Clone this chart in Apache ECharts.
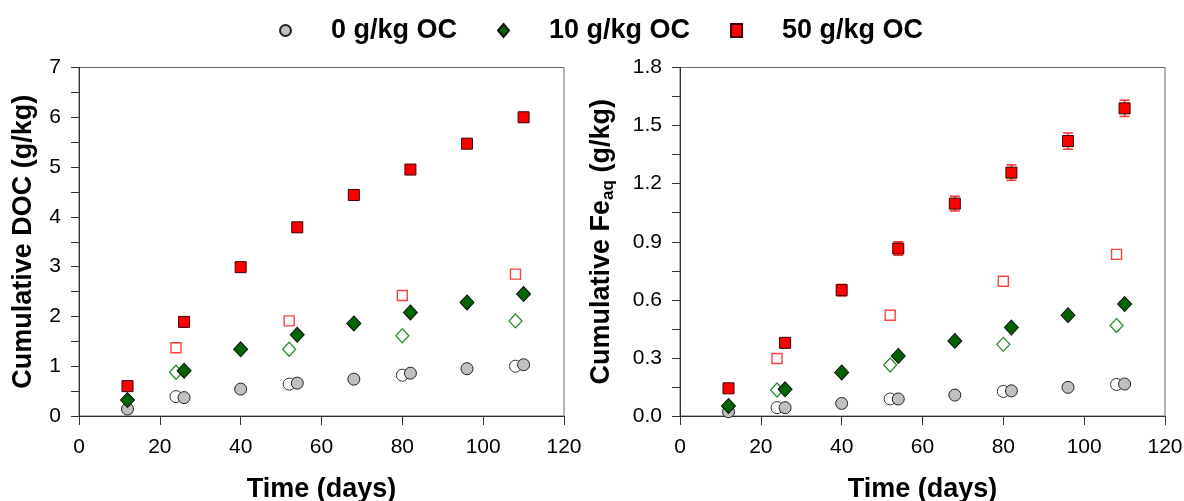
<!DOCTYPE html>
<html>
<head>
<meta charset="utf-8">
<script src="https://cdn.jsdelivr.net/npm/echarts@6/dist/echarts.min.js"></script>
<style>
  html, body { margin: 0; padding: 0; background: #fff; }
  #chart { width: 1184px; height: 501px; }
</style>
</head>
<body>
<div id="chart"></div>
<script>
// Sampling days: filled markers and the offset open markers
const timeFilled = [12, 26, 40, 54, 68, 82, 96, 110];
const timeOpen = [24, 52, 80, 108];

// Cumulative DOC (g/kg)
const doc0 = [0.14, 0.37, 0.54, 0.66, 0.74, 0.86, 0.95, 1.03];
const doc0Open = [0.39, 0.64, 0.82, 1.00];
const doc10 = [0.32, 0.91, 1.34, 1.63, 1.86, 2.08, 2.28, 2.45];
const doc10Open = [0.88, 1.34, 1.61, 1.91];
const doc50 = [0.60, 1.89, 2.99, 3.79, 4.44, 4.95, 5.47, 6.00];
const doc50Open = [1.37, 1.91, 2.42, 2.85];

// Cumulative aqueous Fe (g/kg)
const fe0 = [0.022, 0.043, 0.065, 0.088, 0.108, 0.130, 0.148, 0.165];
const fe0Open = [0.043, 0.088, 0.127, 0.163];
const fe10 = [0.052, 0.138, 0.225, 0.310, 0.388, 0.457, 0.521, 0.578];
const fe10Open = [0.134, 0.263, 0.370, 0.467];
const fe50 = [0.143, 0.378, 0.650, 0.865, 1.097, 1.257, 1.420, 1.589];
const fe50Err = [0.005, 0.008, 0.030, 0.035, 0.038, 0.040, 0.042, 0.042];
const fe50Open = [0.297, 0.520, 0.696, 0.835];

const names = ['0 g/kg OC', '10 g/kg OC', '50 g/kg OC'];

const FONT = '"Liberation Sans", Arial, Helvetica, sans-serif';

const pair = (xs, ys) => xs.map((x, i) => [x, ys[i]]);

const styles = {
  filled: [
    { symbol: 'circle', symbolSize: 12, itemStyle: { color: '#c0c0c0', borderColor: '#222', borderWidth: 1, opacity: 1 } },
    { symbol: 'diamond', symbolSize: [14, 15], itemStyle: { color: '#006400', borderColor: '#111', borderWidth: 1, opacity: 1 } },
    { symbol: 'rect', symbolSize: 11, itemStyle: { color: '#ff0000', borderColor: '#3a0000', borderWidth: 1, opacity: 1 } }
  ],
  open: [
    { symbol: 'circle', symbolSize: 12, itemStyle: { color: '#fff', borderColor: '#333', borderWidth: 1, opacity: 1 } },
    { symbol: 'diamond', symbolSize: [13, 14], itemStyle: { color: '#fff', borderColor: '#2e8b2e', borderWidth: 1.3, opacity: 1 } },
    { symbol: 'rect', symbolSize: 10, itemStyle: { color: '#fff', borderColor: '#ff4040', borderWidth: 1.4, opacity: 1 } }
  ]
};

function scatterSet(axis, filledSets, openSets) {
  const out = [];
  filledSets.forEach((ys, k) => {
    out.push(Object.assign({
      type: 'scatter', name: names[k], xAxisIndex: axis, yAxisIndex: axis,
      data: pair(timeFilled, ys), z: 4, silent: true
    }, styles.filled[k]));
  });
  openSets.forEach((ys, k) => {
    out.push(Object.assign({
      type: 'scatter', name: names[k], xAxisIndex: axis, yAxisIndex: axis,
      data: pair(timeOpen, ys), z: 3, silent: true
    }, styles.open[k]));
  });
  return out;
}

const axisLine = { show: true, lineStyle: { color: '#333', width: 1 } };
const tickStyle = { show: true, inside: false, length: 8, lineStyle: { color: '#333', width: 1 } };
const labelStyle = { color: '#000', fontSize: 21, fontFamily: FONT };

function xAxis(idx) {
  return {
    type: 'value', gridIndex: idx, min: 0, max: 120, interval: 20,
    axisLine: axisLine,
    axisTick: Object.assign({}, tickStyle, { length: 9 }),
    axisLabel: Object.assign({ margin: 21 }, labelStyle),
    splitLine: { show: false },
    name: 'Time (days)', nameLocation: 'middle', nameGap: 60,
    nameTextStyle: { color: '#000', fontSize: 27, fontWeight: 'bold', fontFamily: FONT }
  };
}

const chart = echarts.init(document.getElementById('chart'), null, { renderer: 'canvas' });

const gridBase = {
  top: 67.5, width: 485, height: 348.5, show: true,
  borderColor: '#666', borderWidth: 1, backgroundColor: 'transparent',
  containLabel: false, outerBoundsMode: 'none'
};

chart.setOption({
  animation: false,
  backgroundColor: '#fff',
  legend: {
    data: names,
    top: 12, left: 274,
    itemWidth: 11, itemHeight: 13, itemGap: 40,
    selectedMode: false,
    textStyle: { color: '#000', fontSize: 27, fontWeight: 'bold', fontFamily: FONT, padding: [0, 0, 0, 35] }
  },
  grid: [
    Object.assign({ left: 79 }, gridBase),
    Object.assign({ left: 680 }, gridBase)
  ],
  xAxis: [xAxis(0), xAxis(1)],
  yAxis: [
    {
      type: 'value', gridIndex: 0, min: 0, max: 7, interval: 1,
      axisLine: axisLine, axisTick: tickStyle,
      minorTick: { show: true, splitNumber: 2, length: 8, lineStyle: { color: '#333', width: 1 } },
      axisLabel: Object.assign({ margin: 18 }, labelStyle),
      splitLine: { show: false },
      name: 'Cumulative DOC (g/kg)', nameLocation: 'middle', nameGap: 42, nameRotate: 90,
      nameTextStyle: { color: '#000', fontSize: 27, fontWeight: 'bold', fontFamily: FONT, lineHeight: 27 }
    },
    {
      type: 'value', gridIndex: 1, min: 0, max: 1.8, interval: 0.3,
      axisLine: axisLine, axisTick: tickStyle,
      minorTick: { show: true, splitNumber: 2, length: 8, lineStyle: { color: '#333', width: 1 } },
      axisLabel: Object.assign({ margin: 18, formatter: v => v.toFixed(1) }, labelStyle),
      splitLine: { show: false },
      name: '{t|Cumulative Fe}{s|aq}{t| (g/kg)}', nameLocation: 'middle', nameGap: 63, nameRotate: 90,
      nameTextStyle: {
        color: '#000', fontSize: 27, fontWeight: 'bold', fontFamily: FONT,
        rich: {
          t: { color: '#000', fontSize: 27, fontWeight: 'bold', fontFamily: FONT, lineHeight: 30 },
          s: { color: '#000', fontSize: 17, fontWeight: 'bold', fontFamily: FONT, lineHeight: 17, verticalAlign: 'bottom' }
        }
      }
    }
  ],
  series: [
    ...scatterSet(0, [doc0, doc10, doc50], [doc0Open, doc10Open, doc50Open]),
    ...scatterSet(1, [fe0, fe10, fe50], [fe0Open, fe10Open, fe50Open]),
    {
      // standard-deviation bars for the 50 g/kg Fe series
      type: 'custom', name: 'fe50-error', xAxisIndex: 1, yAxisIndex: 1, z: 3, silent: true,
      data: timeFilled.map((t, i) => [t, fe50[i] - fe50Err[i], fe50[i] + fe50Err[i]]),
      renderItem: function (params, api) {
        const lo = api.coord([api.value(0), api.value(1)]);
        const hi = api.coord([api.value(0), api.value(2)]);
        const hw = 5;
        const st = { stroke: '#ff3030', lineWidth: 1.5 };
        return {
          type: 'group',
          children: [
            { type: 'line', shape: { x1: lo[0], y1: lo[1], x2: hi[0], y2: hi[1] }, style: st },
            { type: 'line', shape: { x1: lo[0] - hw, y1: lo[1], x2: lo[0] + hw, y2: lo[1] }, style: st },
            { type: 'line', shape: { x1: hi[0] - hw, y1: hi[1], x2: hi[0] + hw, y2: hi[1] }, style: st }
          ]
        };
      }
    }
  ]
});
</script>
</body>
</html>
